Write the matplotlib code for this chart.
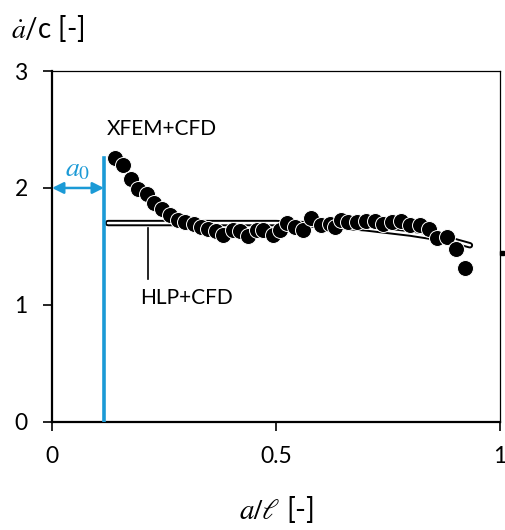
import matplotlib
matplotlib.use("Agg")
import matplotlib.pyplot as plt

plt.rcParams['font.family'] = ['Lato', 'DejaVu Sans']
plt.rcParams['mathtext.fontset'] = 'stix'

# XFEM+CFD points
xfem_x = [0.141, 0.158, 0.176, 0.193, 0.211, 0.228, 0.246, 0.263, 0.281, 0.298,
          0.316, 0.333, 0.348, 0.365, 0.382, 0.405, 0.420, 0.437, 0.457, 0.470,
          0.494, 0.508, 0.525, 0.543, 0.561, 0.578, 0.600, 0.620, 0.632, 0.645,
          0.661, 0.680, 0.701, 0.721, 0.740, 0.760, 0.780, 0.800, 0.821, 0.842,
          0.859, 0.882, 0.902, 0.922]
xfem_y = [2.26, 2.20, 2.08, 1.99, 1.95, 1.87, 1.82, 1.77, 1.73, 1.71,
          1.69, 1.67, 1.65, 1.63, 1.60, 1.64, 1.63, 1.59, 1.64, 1.64,
          1.60, 1.64, 1.70, 1.67, 1.64, 1.74, 1.68, 1.69, 1.67, 1.73,
          1.71, 1.71, 1.72, 1.72, 1.69, 1.71, 1.72, 1.68, 1.68, 1.65,
          1.57, 1.58, 1.48, 1.32]

# HLP+CFD curve
hlp_x = [0.125, 0.2, 0.3, 0.4, 0.5, 0.6, 0.7, 0.8, 0.85, 0.9, 0.933]
hlp_y = [1.70, 1.70, 1.70, 1.70, 1.70, 1.685, 1.655, 1.61, 1.58, 1.545, 1.51]

a0 = 0.116
blue = '#1b9ad6'

fig = plt.figure(figsize=(5.05, 5.30), dpi=100)
ax = fig.add_axes([0.103, 0.204, 0.887, 0.662])

ax.plot(hlp_x, hlp_y, color='black', lw=4.6, solid_capstyle='round', zorder=2)
ax.plot(hlp_x, hlp_y, color='white', lw=1.8, solid_capstyle='round', zorder=2.1)
ax.plot(xfem_x, xfem_y, 'o', color='black', ms=11.5, mec='white', mew=0.7, zorder=3)

# initial crack length
ax.plot([a0, a0], [0, 2.26], color=blue, lw=2.6, zorder=4)
ax.annotate('', xy=(0, 2.0), xytext=(a0, 2.0),
            arrowprops=dict(arrowstyle='<|-|>', color=blue, lw=1.8,
                            mutation_scale=17, shrinkA=0, shrinkB=0))
ax.text(0.058, 2.16, r'$a_0$', color=blue, fontsize=20, ha='center', va='center')

ax.text(0.122, 2.50, 'XFEM+CFD', fontsize=15, ha='left', va='center')
ax.text(0.196, 1.06, 'HLP+CFD', fontsize=15, ha='left', va='center')
ax.plot([0.214, 0.214], [1.66, 1.22], color='black', lw=1.2)

ax.plot([1.004], [1.44], 's', color='black', ms=2.5, clip_on=False)

ax.set_xlim(0, 1)
ax.set_ylim(0, 3)
ax.set_xticks([0, 0.5, 1])
ax.set_xticklabels(['0', '0.5', '1'])
ax.set_yticks([0, 1, 2, 3])
ax.tick_params(direction='out', length=6.5, width=1.2, labelsize=16.5, pad=11)

for s in ['left', 'bottom']:
    ax.spines[s].set_linewidth(1.6)
for s in ['top', 'right']:
    ax.spines[s].set_linewidth(0.9)

fig.text(0.022, 0.947, r'$\dot{a}$/c [-]', fontsize=20, ha='left', va='center')
fig.text(0.548, 0.038, r'$a/\ell$ [-]', fontsize=21, ha='center', va='center')

fig.savefig('out.png', dpi=100)
